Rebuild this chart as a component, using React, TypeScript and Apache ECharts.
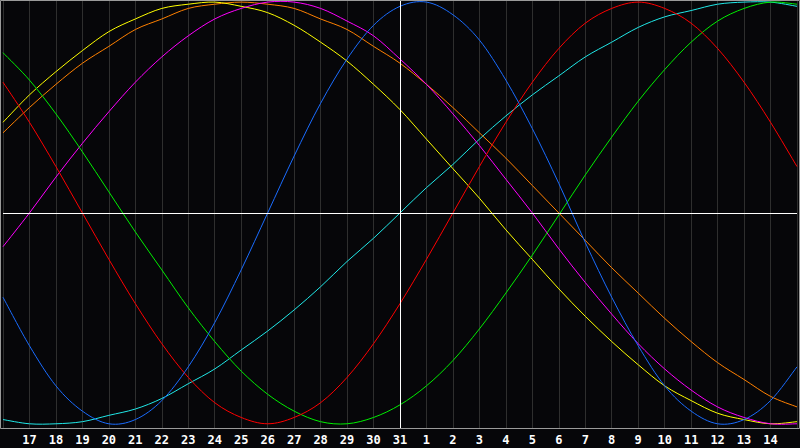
import React, { useEffect, useRef } from "react";
import * as echarts from "echarts";

// day labels: 16 (prev month) .. 31, 1 .. 15
const days = [
  "16", "17", "18", "19", "20", "21", "22", "23", "24", "25", "26", "27", "28", "29", "30", "31",
  "1", "2", "3", "4", "5", "6", "7", "8", "9", "10", "11", "12", "13", "14", "15",
];

const physical = [
  -40, -63, -82, -94, -100, -98, -89, -73, -52, -27, 0, 27, 52, 73, 89, 98,
  100, 94, 82, 63, 40, 14, -14, -40, -63, -82, -94, -100, -98, -89, -73,
];
const emotional = [
  62, 43, 22, 0, -22, -43, -62, -78, -90, -97, -100, -97, -90, -78, -62, -43,
  -22, 0, 22, 43, 62, 78, 90, 97, 100, 97, 90, 78, 62, 43, 22,
];
const intellectual = [
  76, 63, 47, 29, 10, -9, -27, -45, -61, -75, -86, -94, -99, -100, -97, -91,
  -82, -70, -55, -38, -20, -1, 18, 36, 53, 68, 81, 91, 97, 100, 99,
];
const intuitive = [
  -16, 0, 17, 33, 48, 62, 74, 84, 92, 97, 100, 100, 97, 91, 84, 73,
  61, 47, 32, 16, 0, -17, -33, -48, -62, -74, -84, -92, -97, -100, -100,
];
const aesthetic = [
  43, 56, 67, 77, 86, 92, 97, 99, 100, 98, 95, 89, 81, 72, 61, 49,
  35, 21, 7, -8, -22, -36, -49, -61, -72, -82, -89, -95, -98, -100, -99,
];
const awareness = [
  38, 50, 61, 71, 79, 87, 92, 97, 99, 100, 99, 97, 92, 87, 79, 71,
  61, 50, 38, 26, 13, 0, -13, -26, -38, -50, -61, -71, -79, -87, -92,
];
const spiritual = [
  -98, -100, -100, -99, -96, -93, -88, -81, -74, -65, -56, -46, -35, -23, -12, 0,
  12, 23, 35, 46, 56, 65, 74, 81, 88, 93, 96, 99, 100, 100, 98,
];

const todayIndex = 15;

// smooth curve drawn segment by segment (Catmull-Rom through the data points)
function curveSeries(name: string, values: number[], color: string) {
  const last = values.length - 1;
  return {
    name,
    type: "custom",
    silent: true,
    data: values.map((v, i) => [i, v]),
    encode: { x: 0, y: 1 },
    renderItem: (params: any, api: any) => {
      const i = params.dataIndex;
      if (i >= last) return null;
      const pt = (j: number) => {
        const k = Math.max(0, Math.min(last, j));
        return api.coord([k, values[k]]);
      };
      const p0 = pt(i - 1);
      const p1 = pt(i);
      const p2 = pt(i + 1);
      const p3 = pt(i + 2);
      return {
        type: "bezierCurve",
        shape: {
          x1: p1[0],
          y1: p1[1],
          x2: p2[0],
          y2: p2[1],
          cpx1: p1[0] + (p2[0] - p0[0]) / 6,
          cpy1: p1[1] + (p2[1] - p0[1]) / 6,
          cpx2: p2[0] - (p3[0] - p1[0]) / 6,
          cpy2: p2[1] - (p3[1] - p1[1]) / 6,
        },
        style: { stroke: color, lineWidth: 1, fill: "none" },
      };
    },
  };
}

export default function App() {
  const chartRef = useRef<HTMLDivElement>(null);

  useEffect(() => {
    if (!chartRef.current) return;
    const myChart = echarts.init(chartRef.current, null, { renderer: "svg" });

    const option = {
      animation: false,
      backgroundColor: "#060609",
      grid: { left: 0, right: 0, top: 0, bottom: 20 },
      xAxis: {
        type: "category",
        data: days,
        boundaryGap: false,
        axisLine: { show: false },
        axisTick: { show: false },
        splitLine: { show: true, lineStyle: { color: "#2e2e2e", width: 1 } },
        axisLabel: {
          interval: 0,
          margin: 6,
          color: "#ffffff",
          fontFamily: "DejaVu Sans Mono",
          fontWeight: "bold",
          fontSize: 12,
          formatter: (v: string, i: number) => (i === 0 || i === days.length - 1 ? "" : v),
        },
      },
      yAxis: {
        type: "value",
        min: -102,
        max: 101,
        show: false,
        splitLine: { show: false },
      },
      graphic: [
        {
          type: "rect",
          shape: { x: 0.5, y: 0.5, width: 799, height: 428 },
          style: { fill: "none", stroke: "#9a9a9a", lineWidth: 1 },
          silent: true,
          z: 100,
        },
      ],
      series: [
        {
          name: "ref",
          type: "line",
          data: [],
          silent: true,
          markLine: {
            symbol: "none",
            silent: true,
            label: { show: false },
            lineStyle: { color: "#ffffff", type: "solid", width: 1 },
            data: [{ xAxis: todayIndex }, { yAxis: 0 }],
          },
        },
        curveSeries("spiritual", spiritual, "#20e8e8"),
        curveSeries("awareness", awareness, "#ff8000"),
        curveSeries("aesthetic", aesthetic, "#ffff00"),
        curveSeries("intuitive", intuitive, "#ff00ff"),
        curveSeries("intellectual", intellectual, "#00ee00"),
        curveSeries("emotional", emotional, "#ff0000"),
        curveSeries("physical", physical, "#1a6cff"),
      ],
    };

    myChart.setOption(option);
    return () => {
      myChart.dispose();
    };
  }, []);

  return (
    <div
      ref={chartRef}
      style={{ position: "fixed", left: 0, top: 0, width: 800, height: 448, background: "#060609" }}
    />
  );
}
